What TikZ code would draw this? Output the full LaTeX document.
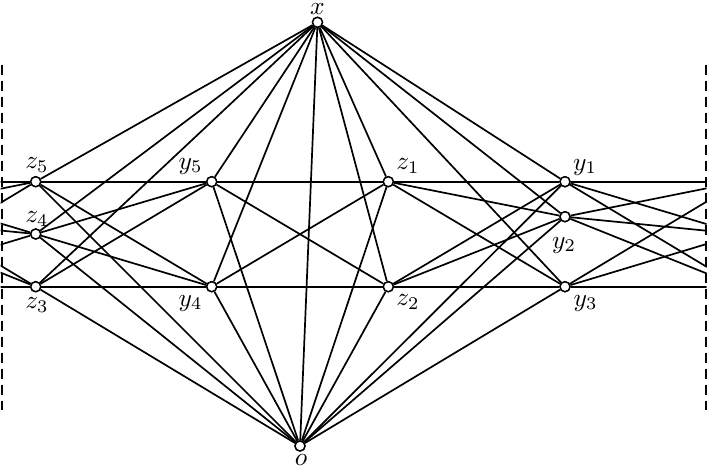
\documentclass[tikz,border=0pt]{standalone}
\begin{document}
\begin{tikzpicture}[x=1pt,y=-1pt,
  vtx/.style={circle,draw,fill=white,line width=1.4pt,inner sep=0pt,minimum size=10pt},
  ghost/.style={circle,inner sep=0pt,minimum size=10pt},
  edge/.style={line width=1.7pt},
  border/.style={line width=2pt,dash pattern=on 10pt off 6pt},
  lbl/.style={inner sep=0pt}]
\newcommand{\lbltext}[1]{\scalebox{2.55}{$#1$}}
\useasboundingbox (0,0) rectangle (707,469);
% boundary coordinates
\coordinate (l1) at (1.5,65);
\coordinate (l2) at (1.5,410);
\coordinate (r1) at (705.5,65);
\coordinate (r2) at (705.5,410);
% vertices
\node[vtx] (x) at (317.5,22.3) {};
\node[vtx] (o) at (300,446) {};
\node[vtx] (z5) at (35.7,181.7) {};
\node[vtx] (z4) at (35.7,234) {};
\node[vtx] (z3) at (35.7,286.7) {};
\node[vtx] (y5) at (211.7,181.7) {};
\node[vtx] (y4) at (211.7,286.7) {};
\node[vtx] (z1) at (388.3,181.7) {};
\node[vtx] (z2) at (388.3,286.7) {};
\node[vtx] (y1) at (565,181.7) {};
\node[vtx] (y2) at (565,216.7) {};
\node[vtx] (y3) at (565,286.7) {};
% ghost copies across the identified boundary
\node[ghost] (z5w) at (739.7,181.7) {};
\node[ghost] (z4w) at (739.7,234) {};
\node[ghost] (z3w) at (739.7,286.7) {};
\node[ghost] (y1w) at (-139,181.7) {};
\node[ghost] (y2w) at (-139,216.7) {};
\node[ghost] (y3w) at (-139,286.7) {};
% edges
\foreach \v in {z5,z4,z3,y5,y4,z1,z2,y1,y2,y3,o} \draw[edge] (x) -- (\v);
\foreach \v in {z5,z4,z3,y5,y4,z1,z2,y1,y2,y3} \draw[edge] (o) -- (\v);
\foreach \a/\b in {z5/y5,y5/z1,z1/y1,z3/y4,y4/z2,z2/y3,
  z5/y4,z4/y5,z4/y4,z3/y5,y5/z2,y4/z1,z1/y2,z1/y3,z2/y1,z2/y2}
  \draw[edge] (\a) -- (\b);
\begin{scope}
\clip (0.5,0) rectangle (706.5,469);
\foreach \a in {y1,y2,y3}{
  \foreach \b in {z3,z4,z5}{
    \draw[edge] (\a) -- (\b w);
    \draw[edge] (\a w) -- (\b);
  }
}
\end{scope}
% redraw vertices on top
\foreach \p in {{317.5,22.3},{300,446},{35.7,181.7},{35.7,234},{35.7,286.7},
  {211.7,181.7},{211.7,286.7},{388.3,181.7},{388.3,286.7},
  {565,181.7},{565,216.7},{565,286.7}}
  \node[vtx] at (\p) {};
% boundaries
\draw[border] (l1) -- (l2);
\draw[border] (r1) -- (r2);
% labels
\node[lbl] (lx) at (317.5,9.5) {\lbltext{x}};
\node[lbl] (lo) at (301,460) {\lbltext{o}};
\node[lbl] (lz5) at (37,165) {\lbltext{z_5}};
\node[lbl] (lz4) at (37,219) {\lbltext{z_4}};
\node[lbl] (lz3) at (37,305) {\lbltext{z_3}};
\node[lbl] (ly5) at (190.5,166) {\lbltext{y_5}};
\node[lbl] (ly4) at (190.5,303) {\lbltext{y_4}};
\node[lbl] (lz1) at (408,166) {\lbltext{z_1}};
\node[lbl] (lz2) at (408,302) {\lbltext{z_2}};
\node[lbl] (ly1) at (585,167) {\lbltext{y_1}};
\node[lbl] (ly2) at (564,245) {\lbltext{y_2}};
\node[lbl] (ly3) at (585.5,303) {\lbltext{y_3}};
\end{tikzpicture}
\end{document}
